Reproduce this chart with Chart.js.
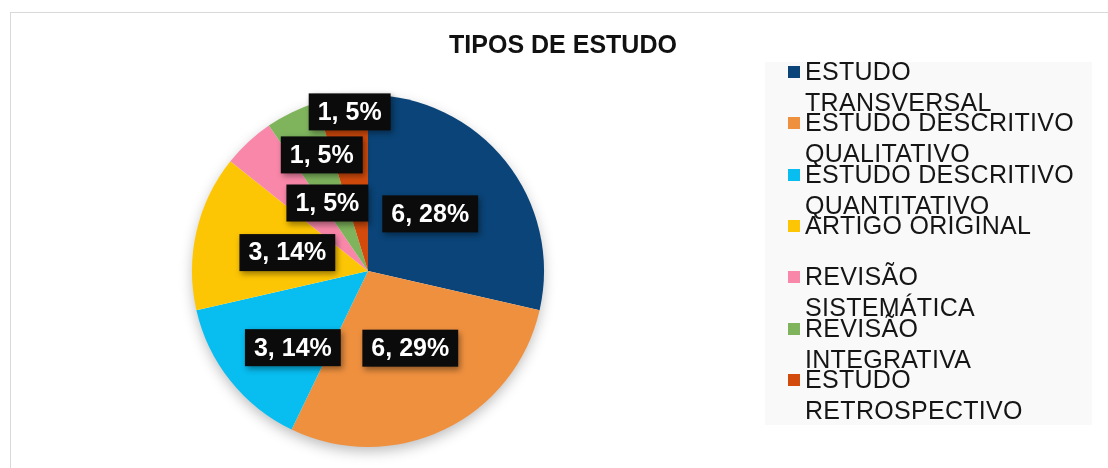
<!DOCTYPE html>
<html>
<head>
<meta charset="utf-8">
<script src="https://cdn.jsdelivr.net/npm/chart.js@4/dist/chart.umd.min.js"></script>
<style>
  html, body { margin: 0; padding: 0; background: #fff; }
  #wrap { position: relative; width: 1108px; height: 468px; overflow: hidden;
          font-family: "Liberation Sans", Arial, Helvetica, sans-serif; }
  #frame { position: absolute; left: 10px; top: 12px; width: 1120px; height: 480px;
           border: 1px solid #d9d9d9; box-sizing: border-box; }
  #title { position: absolute; left: 0; top: 30px; width: 1126px; text-align: center;
           font-weight: bold; font-size: 25px; line-height: 29px; color: #111; }
  #legend { position: absolute; left: 765px; top: 62px; width: 327px; height: 363px;
            background: #f9f9f9; }
  .item { position: absolute; left: 23px; width: 300px; }
  .item .sw { position: absolute; left: 0; top: 10px; width: 12px; height: 12px; }
  .item .tx { position: absolute; left: 17px; width: 280px; font-size: 25px;
              letter-spacing: 0.3px; line-height: 31px; color: #151515; }
  canvas { position: absolute; left: 0; top: 0; }
</style>
</head>
<body>
<div id="wrap">
  <div id="frame"></div>
  <canvas id="pie" width="1108" height="468"></canvas>
  <div id="title">TIPOS DE ESTUDO</div>
  <div id="legend"></div>
</div>
<script>
// dados
const categorias = [
  'ESTUDO TRANSVERSAL',
  'ESTUDO DESCRITIVO QUALITATIVO',
  'ESTUDO DESCRITIVO QUANTITATIVO',
  'ARTIGO ORIGINAL',
  'REVISÃO SISTEMÁTICA',
  'REVISÃO INTEGRATIVA',
  'ESTUDO RETROSPECTIVO'
];
const quantidades = [6, 6, 3, 3, 1, 1, 1];
const percentuais = ['28%', '29%', '14%', '14%', '5%', '5%', '5%'];
const cores = ['#0a4478', '#ef903f', '#08bdf0', '#fdc604', '#f987aa', '#7fb45d', '#d24b0c'];

// posição dos rótulos: fração do raio + ajuste de ângulo (graus)
const rotuloPos = [
  { r: 0.48, da: -4 },
  { r: 0.50, da: -3 },
  { r: 0.61, da: -7 },
  { r: 0.47, da: 0 },
  { r: 0.45, da: 12 },
  { r: 0.71, da: 4 },
  { r: 0.91, da: 2 }
];

// sombra suave atrás da pizza
const sombraPizza = {
  id: 'sombraPizza',
  beforeDatasetsDraw(chart) {
    const arc = chart.getDatasetMeta(0).data[0];
    if (!arc) return;
    const ctx = chart.ctx;
    ctx.save();
    ctx.shadowColor = 'rgba(0,0,0,0.28)';
    ctx.shadowBlur = 14;
    ctx.shadowOffsetY = 5;
    ctx.fillStyle = '#fff';
    ctx.beginPath();
    ctx.arc(arc.x, arc.y, arc.outerRadius - 1, 0, Math.PI * 2);
    ctx.fill();
    ctx.restore();
  }
};

// rótulos com caixa preta
const rotulos = {
  id: 'rotulos',
  afterDatasetsDraw(chart) {
    const ctx = chart.ctx;
    const ds = chart.data.datasets[0];
    chart.getDatasetMeta(0).data.forEach((arc, i) => {
      const p = rotuloPos[i];
      const a = (arc.startAngle + arc.endAngle) / 2 + p.da * Math.PI / 180;
      const x = arc.x + Math.cos(a) * arc.outerRadius * p.r;
      const y = arc.y + Math.sin(a) * arc.outerRadius * p.r;
      const txt = ds.data[i] + ', ' + percentuais[i];
      ctx.save();
      ctx.font = 'bold 25px "Liberation Sans", Arial, sans-serif';
      const w = ctx.measureText(txt).width + 18;
      const h = 37;
      ctx.shadowColor = 'rgba(0,0,0,0.4)';
      ctx.shadowBlur = 6;
      ctx.shadowOffsetX = 2;
      ctx.shadowOffsetY = 3;
      ctx.fillStyle = '#0b0b0b';
      ctx.fillRect(x - w / 2, y - h / 2, w, h);
      ctx.shadowColor = 'transparent';
      ctx.fillStyle = '#fff';
      ctx.textAlign = 'center';
      ctx.textBaseline = 'middle';
      ctx.fillText(txt, x, y + 1);
      ctx.restore();
    });
  }
};

const chart = new Chart(document.getElementById('pie'), {
  type: 'pie',
  data: {
    labels: categorias,
    datasets: [{
      data: quantidades,
      backgroundColor: cores,
      borderWidth: 0
    }]
  },
  options: {
    responsive: false,
    animation: false,
    devicePixelRatio: 1,
    layout: { padding: { left: 192, right: 564, top: 95, bottom: 21 } },
    plugins: {
      legend: { display: false },
      tooltip: { enabled: false },
      title: { display: false }
    }
  },
  plugins: [sombraPizza, rotulos]
});

// legenda HTML montada a partir do chart
const leg = document.getElementById('legend');
chart.data.labels.forEach((lab, i) => {
  const it = document.createElement('div');
  it.className = 'item';
  it.style.top = (-6 + i * 51.3) + 'px';
  const sw = document.createElement('span');
  sw.className = 'sw';
  sw.style.background = chart.data.datasets[0].backgroundColor[i];
  const tx = document.createElement('div');
  tx.className = 'tx';
  tx.textContent = lab;
  it.appendChild(sw);
  it.appendChild(tx);
  leg.appendChild(it);
});
</script>
</body>
</html>
